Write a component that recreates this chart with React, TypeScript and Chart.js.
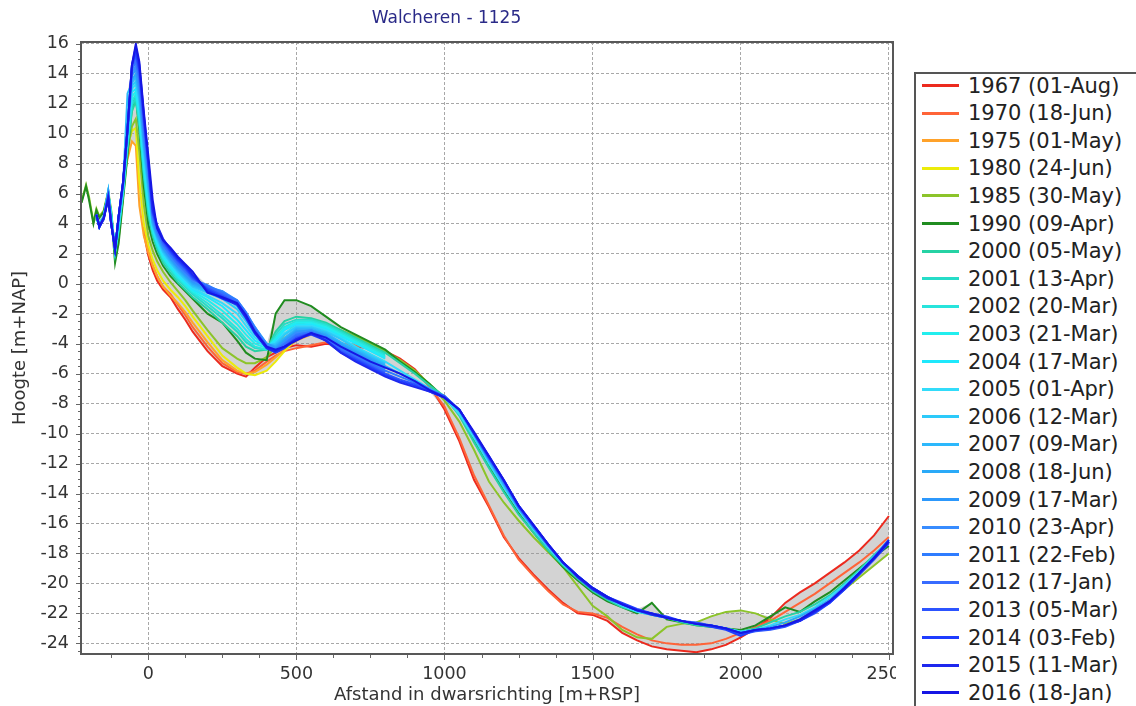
import React, { useEffect, useRef } from "react";
import { Chart, registerables } from "chart.js";

Chart.register(...registerables);

const _ = null;

// Distance grid (m + RSP)
const distances = [
  -225, -210, -200, -185, -175, -165, -150, -135, -125, -112, -100, -85, -70, -55, -42, -30, -15, 0,
  15, 30, 50, 75, 100, 125, 150, 200, 250, 300, 330, 360, 400, 430, 460, 500, 550, 600, 650, 700, 750, 800, 850, 900, 950, 1000,
  1050, 1100, 1150, 1200, 1250, 1300, 1350, 1400, 1450, 1500, 1550, 1600, 1650, 1700, 1750, 1800, 1850, 1900, 1950, 2000,
  2050, 2100, 2150, 2200, 2250, 2300, 2350, 2400, 2450, 2500,
];

const h1967 = [
  _, _, _, _, _, _, _, _, _, _, _, _, _, _, _, _, 3.4, 1.9,
  0.9, 0.2, -0.4, -0.9, -1.7, -2.4, -3.2, -4.5, -5.5, -6.0, -6.2, -5.6, -4.9, -4.6, -4.3, -4.1, -4.2, -4.0, -4.1, -4.2, -4.3, -4.5, -5.0, -5.7, -6.8, -8.4,
  -10.5, -13.1, -14.9, -16.9, -18.3, -19.4, -20.4, -21.3, -22.0, -22.1, -22.5, -23.3, -23.8, -24.2, -24.4, -24.5, -24.6, -24.4, -24.1, -23.6,
  -23.0, -22.3, -21.3, -20.6, -20.0, -19.3, -18.6, -17.8, -16.8, -15.5,
];
const h1970 = [
  _, _, _, _, _, _, _, _, _, _, _, _, _, _, _, _, 3.8, 2.2,
  1.2, 0.5, -0.2, -0.7, -1.4, -2.1, -2.9, -4.2, -5.3, -5.9, -6.0, -5.8, -5.2, -4.8, -4.5, -4.3, -4.1, -3.9, -4.0, -4.1, -4.3, -4.6, -5.1, -5.8, -6.9, -8.2,
  -10.3, -12.8, -14.8, -16.8, -18.4, -19.5, -20.5, -21.4, -21.9, -22.0, -22.3, -22.9, -23.4, -23.8, -24.0, -24.1, -24.1, -24.0, -23.7, -23.3,
  -22.9, -22.5, -21.9, -21.3, -20.7, -20.0, -19.3, -18.6, -17.8, -16.9,
];
const h1975 = [
  _, _, _, _, _, _, _, _, _, _, _, 6.8, 8.3, 9.5, 9.2, 5.2, 3.2, 2.1,
  1.2, 0.5, -0.2, -0.8, -1.3, -1.9, -2.6, -3.9, -5.1, -5.8, -6.0, -5.9, -5.4, -4.9, -4.4, -3.8, -3.4, -3.3, -3.5, -3.8, -4.2, -4.6,
];
const h1980 = [
  _, _, _, _, _, _, _, _, _, _, _, 7.0, 9.2, 10.2, 10.4, 6.8, 4.0, 2.6,
  1.6, 0.9, 0.2, -0.4, -0.9, -1.5, -2.2, -3.5, -4.8, -5.6, -6.0, -6.1, -5.8, -5.2, -4.5, -3.7, -3.3, -3.1, -3.3, -3.7, -4.1, -4.6,
];
const h1985 = [
  5.5, 6.6, 5.8, 4.1, 5.0, 4.5, 4.9, 6.2, 4.9, 2.0, 3.0, 5.8, 8.8, 10.5, 11.0, 8.8, 5.3, 3.2,
  2.2, 1.5, 0.8, 0.1, -0.5, -1.1, -1.8, -3.1, -4.3, -5.0, -5.3, -5.3, -4.9, -4.2, -3.4, -2.7, -2.5, -2.7, -3.1, -3.5, -4.0, -4.5, -5.1, -5.8, -6.7, -7.8,
  -9.2, -11.1, -13.2, -14.6, -15.8, -16.9, -17.9, -18.9, -20.2, -21.5, -22.2, -23.1, -23.6, -23.7, -22.9, -22.7, -22.6, -22.2, -21.9, -21.8,
  -22.0, -22.4, -22.7, -22.4, -21.8, -21.1, -20.4, -19.6, -18.8, -18.0,
];
const h1990 = [
  5.4, 6.5, 5.6, 4.0, 4.9, 4.4, 4.8, 6.1, 4.6, 1.4, 2.7, 5.6, 8.6, 11.8, 12.5, 10.2, 6.5, 4.0,
  2.8, 2.0, 1.2, 0.5, 0.0, -0.5, -1.0, -2.0, -2.6, -3.8, -4.6, -5.0, -5.1, -2.0, -1.1, -1.1, -1.5, -2.2, -2.9, -3.4, -3.9, -4.4, -5.2, -5.9, -6.7, -7.6,
  -8.7, -10.4, -12.1, -13.8, -15.3, -16.6, -17.8, -18.9, -19.8, -20.6, -21.2, -21.6, -22.0, -21.3, -22.4, -22.6, -22.8, -22.9, -23.0, -23.1,
  -22.8, -22.2, -21.6, -21.9, -21.2, -20.6, -19.8, -19.0, -18.2, -17.5,
];
const h2000 = [
  _, _, _, _, _, 4.0, 4.5, 6.0, 4.8, 2.0, 3.5, 6.0, 9.0, 11.5, 12.2, 10.5, 7.2, 4.6,
  3.2, 2.3, 1.4, 0.7, 0.1, -0.4, -0.9, -1.7, -2.6, -3.5, -4.2, -4.5, -4.4, -3.2, -2.5, -2.2, -2.3, -2.6, -3.1, -3.6, -4.1, -4.6, -5.3, -6.0, -6.8, -7.5,
  -8.8, -10.6, -12.3, -13.9, -15.4, -16.6, -17.8, -18.8, -19.7, -20.5, -21.1, -21.6, -21.9, -22.1, -22.3, -22.6, -22.8, -22.9, -23.0, -23.2,
  -23.0, -22.6, -22.2, -21.9, -21.4, -20.8, -20.0, -19.1, -18.1, -17.2,
];
const h2001 = [
  _, _, _, _, _, 4.1, 4.4, 6.1, 4.7, 2.2, 3.6, 6.1, 9.3, 11.9, 12.4, 10.8, 7.5, 4.9,
  3.4, 2.5, 1.6, 0.9, 0.3, -0.2, -0.7, -1.5, -2.3, -3.2, -3.9, -4.3, -4.4, -3.4, -2.7, -2.4, -2.4, -2.7, -3.2, -3.7, -4.2, -4.7,
];
const h2002 = [
  _, _, _, _, _, 4.0, 4.5, 6.0, 4.6, 2.1, 3.7, 6.2, 9.5, 12.2, 12.6, 11.0, 7.8, 5.1,
  3.5, 2.6, 1.7, 1.0, 0.4, -0.1, -0.6, -1.3, -2.1, -3.0, -3.7, -4.2, -4.4, -3.6, -2.9, -2.5, -2.5, -2.8, -3.3, -3.8, -4.3, -4.8,
];
const h2003 = [
  _, _, _, _, 4.3, 3.9, 4.4, 6.0, 4.5, 2.2, 3.8, 6.3, 9.6, 12.5, 12.8, 11.3, 8.0, 5.3,
  3.6, 2.7, 1.8, 1.1, 0.5, 0.0, -0.5, -1.1, -1.8, -2.7, -3.4, -4.0, -4.3, -3.7, -3.0, -2.6, -2.6, -2.9, -3.4, -3.9, -4.4, -4.9,
];
const h2004 = [
  _, _, _, _, 4.4, 3.8, 4.5, 6.1, 4.4, 2.3, 3.9, 6.4, 9.7, 12.8, 13.0, 11.6, 8.3, 5.6,
  3.7, 2.8, 1.9, 1.2, 0.6, 0.1, -0.4, -0.9, -1.5, -2.4, -3.1, -3.8, -4.2, -3.8, -3.1, -2.7, -2.7, -3.0, -3.5, -4.0, -4.5, -5.0,
];
const h2005 = [
  _, _, _, _, 4.5, 3.8, 4.4, 6.2, 4.3, 2.4, 4.0, 6.5, 9.8, 13.0, 13.3, 11.9, 8.6, 5.9,
  3.8, 2.9, 2.0, 1.3, 0.7, 0.2, -0.3, -0.8, -1.3, -2.0, -2.8, -3.6, -4.2, -3.9, -3.3, -2.8, -2.8, -3.1, -3.6, -4.2, -4.7, -5.2, -5.8, -6.4, -7.0, -7.6,
  -8.7, -10.3, -12.0, -13.6, -15.1, -16.4, -17.6, -18.7, -19.6, -20.4, -21.0, -21.5, -21.9, -22.1, -22.3, -22.5, -22.7, -22.8, -23.0, -23.2,
  -23.1, -22.8, -22.4, -22.1, -21.6, -20.9, -20.1, -19.2, -18.2, -17.2,
];
const h2006 = [
  _, _, _, _, 4.5, 3.9, 4.5, 6.2, 4.2, 2.4, 4.1, 6.5, 9.9, 13.2, 13.5, 12.2, 8.9, 6.2,
  3.9, 3.0, 2.1, 1.4, 0.8, 0.3, -0.2, -0.6, -1.0, -1.7, -2.5, -3.4, -4.1, -4.0, -3.4, -2.9, -2.9, -3.2, -3.7, -4.3, -4.8, -5.3,
];
const h2007 = [
  _, _, _, _, 4.6, 3.8, 4.5, 6.2, 4.2, 2.4, 4.2, 6.6, 12.7, 13.4, 13.8, 12.4, 9.2, 6.5,
  4.0, 3.1, 2.2, 1.5, 0.9, 0.4, -0.1, -0.5, -0.8, -1.5, -2.3, -3.2, -4.1, -4.1, -3.6, -3.0, -3.0, -3.3, -3.9, -4.4, -4.9, -5.4,
];
const h2008 = [
  _, _, _, _, 4.6, 3.8, 4.4, 6.1, 4.1, 2.4, 4.3, 6.6, 10.1, 13.6, 14.0, 12.7, 9.5, 6.8,
  4.1, 3.2, 2.3, 1.6, 1.0, 0.5, 0.0, -0.4, -0.6, -1.3, -2.1, -3.0, -4.0, -4.2, -3.7, -3.1, -3.1, -3.4, -4.0, -4.5, -5.0, -5.5, -6.0, -6.5, -7.0, -7.5,
  -8.5, -10.1, -11.8, -13.4, -15.0, -16.3, -17.5, -18.6, -19.5, -20.3, -20.9, -21.4, -21.8, -22.1, -22.3, -22.5, -22.7, -22.8, -23.0, -23.3,
  -23.1, -22.9, -22.6, -22.2, -21.7, -21.1, -20.2, -19.3, -18.2, -17.1,
];
const h2009 = [
  _, _, _, _, 4.6, 3.8, 4.5, 5.9, 4.1, 2.3, 4.4, 6.6, 10.2, 13.9, 14.3, 13.0, 9.8, 7.1,
  4.3, 3.3, 2.4, 1.7, 1.1, 0.6, 0.1, -0.3, -0.5, -1.2, -2.0, -2.9, -4.0, -4.3, -3.8, -3.2, -3.1, -3.5, -4.1, -4.6, -5.1, -5.6,
];
const h2010 = [
  _, _, _, _, 4.6, 3.8, 4.4, 6.0, 4.0, 2.3, 4.4, 6.7, 10.2, 14.1, 14.5, 13.3, 10.1, 7.4,
  4.4, 3.4, 2.5, 1.8, 1.2, 0.7, 0.2, -0.2, -0.5, -1.1, -1.9, -2.9, -4.1, -4.4, -3.9, -3.3, -3.2, -3.6, -4.2, -4.7, -5.2, -5.7,
];
const h2011 = [
  _, _, _, _, 4.6, 3.8, 4.4, 5.8, 4.0, 2.3, 4.5, 6.7, 10.2, 14.3, 14.8, 13.6, 10.4, 7.6,
  4.5, 3.5, 2.6, 1.9, 1.3, 0.8, 0.3, -0.1, -0.6, -1.1, -1.9, -3.0, -4.2, -4.4, -4.0, -3.4, -3.2, -3.6, -4.3, -4.8, -5.3, -5.8, -6.2, -6.6, -7.1, -7.5,
  -8.4, -10.0, -11.7, -13.2, -14.9, -16.2, -17.5, -18.6, -19.5, -20.3, -20.9, -21.4, -21.8, -22.0, -22.3, -22.5, -22.7, -22.8, -23.0, -23.4,
  -23.1, -23.0, -22.8, -22.4, -21.8, -21.2, -20.3, -19.3, -18.3, -17.2,
];
const h2012 = [
  _, _, _, _, 4.6, 3.8, 4.4, 5.8, 4.0, 2.3, 4.5, 6.7, 10.3, 14.4, 15.0, 13.8, 10.6, 7.8,
  4.6, 3.6, 2.7, 2.0, 1.4, 0.9, 0.3, -0.2, -0.7, -1.2, -2.0, -3.1, -4.2, -4.5, -4.1, -3.5, -3.3, -3.7, -4.4, -4.9, -5.4, -5.9,
];
const h2013 = [
  _, _, _, _, 4.6, 3.8, 4.4, 5.7, 4.0, 2.3, 4.5, 6.7, 10.3, 14.5, 15.3, 14.1, 10.9, 8.0,
  4.7, 3.7, 2.8, 2.1, 1.5, 1.0, 0.4, -0.3, -0.8, -1.3, -2.1, -3.2, -4.3, -4.5, -4.2, -3.6, -3.3, -3.8, -4.5, -5.0, -5.5, -6.0, -6.4, -6.7, -7.1, -7.5,
  -8.4, -10.0, -11.6, -13.2, -14.9, -16.2, -17.4, -18.6, -19.5, -20.3, -20.9, -21.4, -21.8, -22.0, -22.3, -22.5, -22.6, -22.8, -23.0, -23.4,
  -23.2, -23.1, -22.9, -22.5, -22.0, -21.3, -20.4, -19.4, -18.3, -17.2,
];
const h2014 = [
  _, _, _, _, 4.6, 3.8, 4.4, 5.8, 4.0, 2.3, 4.5, 6.8, 10.3, 14.6, 15.5, 14.3, 11.1, 8.1,
  4.8, 3.8, 2.9, 2.2, 1.6, 1.1, 0.5, -0.4, -0.9, -1.4, -2.2, -3.3, -4.3, -4.6, -4.3, -3.7, -3.4, -3.8, -4.6, -5.1, -5.6, -6.1, -6.5, -6.8, -7.2, -7.6,
  -8.4, -10.0, -11.6, -13.1, -14.8, -16.1, -17.4, -18.6, -19.5, -20.3, -20.9, -21.3, -21.7, -22.0, -22.2, -22.5, -22.7, -22.9, -23.1, -23.5,
  -23.1, -23.0, -22.8, -22.5, -21.9, -21.3, -20.4, -19.4, -18.4, -17.3,
];
const h2015 = [
  _, _, _, _, 4.6, 3.8, 4.3, 5.8, 4.0, 2.3, 4.5, 6.8, 10.3, 14.6, 15.8, 14.6, 11.3, 8.2,
  5.0, 3.9, 3.0, 2.3, 1.7, 1.2, 0.6, -0.5, -1.0, -1.4, -2.3, -3.3, -4.3, -4.5, -4.2, -3.7, -3.3, -3.8, -4.6, -5.2, -5.7, -6.2, -6.6, -6.9, -7.2, -7.6,
  -8.4, -10.0, -11.5, -13.1, -14.8, -16.1, -17.4, -18.6, -19.6, -20.4, -21.0, -21.4, -21.8, -22.1, -22.3, -22.5, -22.7, -22.8, -23.0, -23.3,
  -23.1, -23.0, -22.8, -22.5, -21.9, -21.2, -20.3, -19.3, -18.3, -17.1,
];
const h2016 = [
  _, _, _, _, 4.6, 3.8, 4.4, 5.6, 4.0, 2.3, 4.5, 6.8, 10.3, 14.6, 16.0, 14.8, 11.5, 8.6,
  5.6, 3.7, 2.9, 2.4, 1.8, 1.3, 0.8, -0.6, -0.9, -1.3, -2.1, -3.2, -4.2, -4.4, -4.2, -3.8, -3.3, -3.6, -4.2, -4.7, -5.2, -5.6, -6.0, -6.5, -7.1, -7.6,
  -8.4, -9.9, -11.5, -13.1, -14.8, -16.1, -17.4, -18.6, -19.5, -20.3, -20.9, -21.4, -21.8, -22.0, -22.3, -22.5, -22.7, -22.8, -23.0, -23.3,
  -23.1, -23.0, -22.8, -22.4, -21.8, -21.2, -20.3, -19.3, -18.3, -17.2,
];

const seriesLabels = [
  "1967 (01-Aug)", "1970 (18-Jun)", "1975 (01-May)", "1980 (24-Jun)", "1985 (30-May)", "1990 (09-Apr)",
  "2000 (05-May)", "2001 (13-Apr)", "2002 (20-Mar)", "2003 (21-Mar)", "2004 (17-Mar)", "2005 (01-Apr)",
  "2006 (12-Mar)", "2007 (09-Mar)", "2008 (18-Jun)", "2009 (17-Mar)", "2010 (23-Apr)", "2011 (22-Feb)",
  "2012 (17-Jan)", "2013 (05-Mar)", "2014 (03-Feb)", "2015 (11-Mar)", "2016 (18-Jan)",
];
const seriesColors = [
  "#ec2a1e", "#ff6438", "#ffa22a", "#ecec0a", "#8cc42a", "#208c20",
  "#26d2a4", "#26dcc8", "#28e4dc", "#22eeee", "#1ee8fc", "#32dcfa",
  "#2ccafa", "#2cb8fc", "#2aaaf8", "#2c98fc", "#388cff", "#2e7cff",
  "#386cff", "#2c54ff", "#1e3cff", "#1e28ee", "#1616e4",
];
const seriesValues = [
  h1967, h1970, h1975, h1980, h1985, h1990, h2000, h2001, h2002, h2003, h2004, h2005,
  h2006, h2007, h2008, h2009, h2010, h2011, h2012, h2013, h2014, h2015, h2016,
];

const xTickValues = [0, 500, 1000, 1500, 2000, 2500];
const yTickValues = [-24, -22, -20, -18, -16, -14, -12, -10, -8, -6, -4, -2, 0, 2, 4, 6, 8, 10, 12, 14, 16];

const FONT = '"DejaVu Sans", Verdana, sans-serif';

function toPoints(vals: (number | null)[]) {
  const pts: { x: number; y: number }[] = [];
  vals.forEach((v, i) => {
    if (v !== null && v !== undefined) pts.push({ x: distances[i], y: v });
  });
  return pts;
}

function envelope(kind: "min" | "max") {
  const pts: { x: number; y: number }[] = [];
  distances.forEach((x, i) => {
    const vs = seriesValues.map((s) => s[i]).filter((v) => v !== null && v !== undefined) as number[];
    if (vs.length) pts.push({ x, y: kind === "max" ? Math.max(...vs) : Math.min(...vs) });
  });
  return pts;
}

const framePlugin = {
  id: "frameAndMinorTicks",
  afterDraw(chart: any) {
    const { ctx, chartArea } = chart;
    const { left, right, top, bottom } = chartArea;
    const xs = chart.scales.x;
    const ys = chart.scales.y;
    ctx.save();
    ctx.strokeStyle = "#666";
    ctx.lineWidth = 1;
    ctx.beginPath();
    for (let v = Math.ceil(ys.min / 0.5) * 0.5; v <= ys.max + 1e-9; v += 0.5) {
      const p = Math.round(ys.getPixelForValue(v)) + 0.5;
      const major = Math.abs(v / 2 - Math.round(v / 2)) < 1e-6;
      const len = major ? 5 : 3;
      ctx.moveTo(left - len, p);
      ctx.lineTo(left, p);
    }
    for (let v = Math.ceil(xs.min / 125) * 125; v <= xs.max + 1e-9; v += 125) {
      const p = Math.round(xs.getPixelForValue(v)) + 0.5;
      const len = v % 500 === 0 ? 6 : 4;
      ctx.moveTo(p, bottom);
      ctx.lineTo(p, bottom + len);
    }
    ctx.stroke();
    ctx.strokeStyle = "#585858";
    ctx.lineWidth = 2;
    ctx.strokeRect(left, top, right - left, bottom - top);
    ctx.restore();
  },
};

function ProfileChart() {
  const canvasRef = useRef<HTMLCanvasElement | null>(null);

  useEffect(() => {
    const canvas = canvasRef.current;
    if (!canvas) return;
    Chart.defaults.font.family = FONT;

    const lineSets: any[] = seriesValues.map((vals, i) => ({
      label: seriesLabels[i],
      data: toPoints(vals),
      borderColor: seriesColors[i],
      backgroundColor: seriesColors[i],
      borderWidth: 2,
      pointRadius: 0,
      fill: false,
      tension: 0,
      order: seriesValues.length - i,
    }));
    const envSets: any[] = [
      {
        label: "envelope-max",
        data: envelope("max"),
        borderWidth: 0,
        borderColor: "rgba(0,0,0,0)",
        backgroundColor: "rgba(150,150,150,0.42)",
        pointRadius: 0,
        fill: "+1",
        order: 200,
      },
      {
        label: "envelope-min",
        data: envelope("min"),
        borderWidth: 0,
        borderColor: "rgba(0,0,0,0)",
        pointRadius: 0,
        fill: false,
        order: 201,
      },
    ];

    const chart = new Chart(canvas, {
      type: "line",
      data: { datasets: [...lineSets, ...envSets] },
      plugins: [framePlugin],
      options: {
        animation: false,
        responsive: false,
        devicePixelRatio: 1,
        events: [],
        layout: { padding: { left: 0, right: 3, top: 0, bottom: 0 } },
        plugins: {
          legend: { display: false },
          tooltip: { enabled: false },
          title: {
            display: true,
            text: "Walcheren - 1125",
            color: "#2a2a88",
            font: { size: 17, weight: "normal", family: FONT },
            padding: { top: 8, bottom: 13.6 },
          },
        },
        scales: {
          x: {
            type: "linear",
            min: -227,
            max: 2514,
            afterBuildTicks: (axis: any) => {
              axis.ticks = xTickValues.map((v) => ({ value: v }));
            },
            afterFit: (s: any) => {
              s.height = 52;
              s.paddingLeft = 0;
              s.paddingRight = 0;
            },
            ticks: {
              color: "#333",
              font: { size: 17.5, family: FONT },
              padding: 10,
              maxRotation: 0,
              autoSkip: false,
              callback: (v: any) => String(v),
            },
            grid: { color: "#a8a8a8", lineWidth: 1, drawTicks: false },
            border: { display: false, dash: [3, 2] },
            title: {
              display: true,
              text: "Afstand in dwarsrichting [m+RSP]",
              color: "#333",
              font: { size: 18, family: FONT },
              padding: { top: 0, bottom: 0 },
            },
          },
          y: {
            type: "linear",
            min: -24.71,
            max: 16.13,
            afterBuildTicks: (axis: any) => {
              axis.ticks = yTickValues.map((v) => ({ value: v }));
            },
            afterFit: (s: any) => {
              s.width = 81;
              s.paddingTop = 0;
              s.paddingBottom = 0;
            },
            ticks: {
              color: "#333",
              font: { size: 17.5, family: FONT },
              padding: 12,
              autoSkip: false,
              callback: (v: any) => String(v),
            },
            grid: { color: "#a8a8a8", lineWidth: 1, drawTicks: false },
            border: { display: false, dash: [3, 2] },
            title: {
              display: true,
              text: "Hoogte [m+NAP]",
              color: "#333",
              font: { size: 18, family: FONT },
              padding: { top: 9.2, bottom: 0 },
            },
          },
        },
      } as any,
    });

    return () => {
      chart.destroy();
    };
  }, []);

  return (
    <canvas
      ref={canvasRef}
      width={896}
      height={706}
      style={{ position: "absolute", left: 0, top: 0, width: 896, height: 706 }}
    />
  );
}

function Legend() {
  return (
    <div
      style={{
        position: "absolute",
        left: 914,
        top: 72,
        width: 260,
        height: 700,
        border: "2px solid #555",
        boxSizing: "border-box",
        background: "#fff",
      }}
    >
      {seriesLabels.map((lab, i) => (
        <div
          key={lab}
          style={{
            position: "absolute",
            left: 0,
            top: -0.5 + i * 27.6,
            height: 24,
            display: "flex",
            alignItems: "center",
            whiteSpace: "nowrap",
          }}
        >
          <span
            style={{
              display: "inline-block",
              width: 37,
              height: 3,
              background: seriesColors[i],
              marginLeft: 6,
              marginRight: 9,
            }}
          />
          <span style={{ fontFamily: FONT, fontSize: 21, lineHeight: "24px", color: "#222" }}>{lab}</span>
        </div>
      ))}
    </div>
  );
}

export default function App() {
  return (
    <div
      style={{
        position: "absolute",
        left: 0,
        top: 0,
        width: 1136,
        height: 706,
        overflow: "hidden",
        background: "#fff",
      }}
    >
      <ProfileChart />
      <Legend />
    </div>
  );
}
